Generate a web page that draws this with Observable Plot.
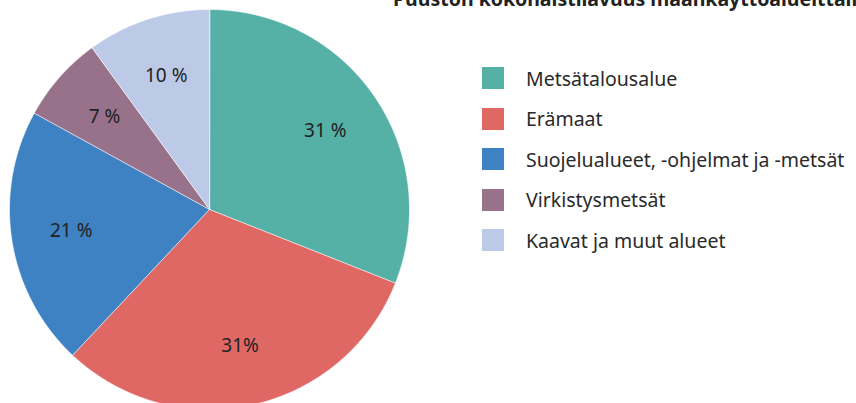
<!DOCTYPE html>
<html>
<head>
<meta charset="utf-8">
<script src="https://cdn.jsdelivr.net/npm/d3@7"></script>
<script src="https://cdn.jsdelivr.net/npm/@observablehq/plot@0.6"></script>
<style>
  html, body { margin: 0; padding: 0; background: #fff; overflow: hidden; }
  #wrap { position: relative; width: 856px; height: 403px; overflow: hidden; font-family: "Noto Sans", "Open Sans", sans-serif; }
  #title { position: absolute; left: 393px; top: -15px; white-space: nowrap; font-weight: bold; font-size: 19.5px; line-height: 27px; color: #222; }
  #legend { position: absolute; left: 482px; top: 58px; }
  .item { display: flex; align-items: center; height: 40.5px; }
  .sw { width: 22px; height: 22px; margin-right: 22px; }
  .lab { font-size: 19.5px; color: #2a2a2a; white-space: nowrap; }
  #chart { position: absolute; left: 0; top: 0; }
</style>
</head>
<body>
<div id="wrap">
  <div id="chart"></div>
  <div id="title"></div>
  <div id="legend"></div>
</div>
<script>
const title = "Puuston kokonaistilavuus maankäyttöalueittain";
const categories = ["Metsätalousalue", "Erämaat", "Suojelualueet, -ohjelmat ja -metsät", "Virkistysmetsät", "Kaavat ja muut alueet"];
const values = [31, 31, 21, 7, 10];
const labels = ["31 %", "31%", "21 %", "7 %", "10 %"];
const colors = ["#55b1a6", "#df6865", "#3f82c3", "#98728b", "#bccae8"];

document.getElementById("title").textContent = title;

// Build slice geometry (clockwise from 12 o'clock) from the values
const total = d3.sum(values);
const slices = [];
const labelRows = [];
let acc = 0;
categories.forEach((c, i) => {
  const a0 = acc / total * 2 * Math.PI;
  acc += values[i];
  const a1 = acc / total * 2 * Math.PI;
  const n = Math.max(2, Math.ceil((a1 - a0) / (Math.PI / 360)));
  slices.push({key: c, x: 0, y: 0});
  for (let k = 0; k <= n; k++) {
    const t = a0 + (a1 - a0) * k / n;
    slices.push({key: c, x: Math.sin(t), y: Math.cos(t)});
  }
  const m = (a0 + a1) / 2;
  labelRows.push({key: c, text: labels[i], x: 0.7 * Math.sin(m), y: 0.7 * Math.cos(m)});
});

const plot = Plot.plot({
  width: 856,
  height: 403,
  x: {domain: [-1, 1], range: [9, 409], axis: null},
  y: {domain: [-1, 1], range: [409, 9], axis: null},
  color: {domain: categories, range: colors},
  style: {background: "transparent", overflow: "hidden"},
  marks: [
    Plot.line(slices, {x: "x", y: "y", z: "key", fill: "key", stroke: "#ffffff", strokeWidth: 0.6, curve: "linear-closed"}),
    Plot.text(labelRows, {x: "x", y: "y", text: "text", fontSize: 19, fill: "#222", fontFamily: "Noto Sans, sans-serif"})
  ]
});
document.getElementById("chart").appendChild(plot);

const legend = d3.select("#legend");
categories.forEach((c, i) => {
  const it = legend.append("div").attr("class", "item");
  it.append("div").attr("class", "sw").style("background", colors[i]);
  it.append("div").attr("class", "lab").text(c);
});
</script>
</body>
</html>
